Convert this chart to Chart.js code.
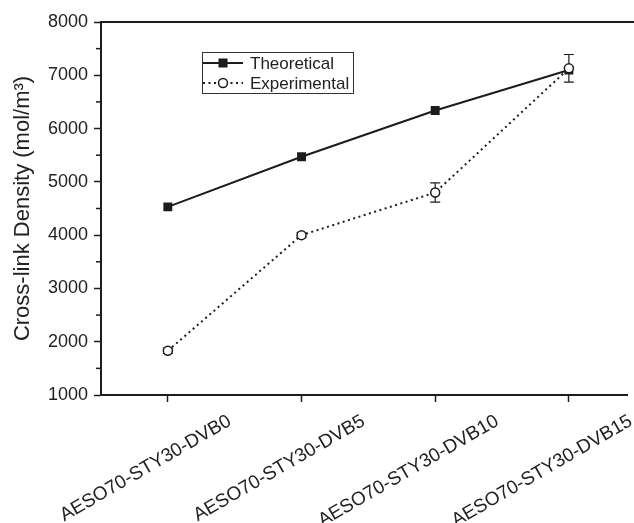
<!DOCTYPE html>
<html>
<head>
<meta charset="utf-8">
<script src="https://cdn.jsdelivr.net/npm/chart.js@4.4.0/dist/chart.umd.min.js"></script>
<style>
  html, body { margin: 0; padding: 0; background: #fff; }
  #wrap { width: 634px; height: 523px; }
</style>
</head>
<body>
<div id="wrap"><canvas id="crossLinkChart"></canvas></div>
<script>
const categories = ['AESO70-STY30-DVB0', 'AESO70-STY30-DVB5', 'AESO70-STY30-DVB10', 'AESO70-STY30-DVB15'];
const theoretical = [4530, 5470, 6340, 7100];
const experimental = [1830, 4000, 4800, 7130];
const experimentalError = [50, 45, 180, 260];
const yTicks = [1000, 2000, 3000, 4000, 5000, 6000, 7000, 8000];

Chart.defaults.font.family = "'Liberation Sans', Arial, sans-serif";
Chart.defaults.color = '#222';

const ink = '#1c1c1c';

// top frame line + minor ticks on the y axis
const frameAndMinorTicks = {
  id: 'frameAndMinorTicks',
  afterDraw(chart) {
    const { ctx, chartArea, scales } = chart;
    ctx.save();
    ctx.strokeStyle = ink;
    ctx.lineWidth = 2;
    ctx.beginPath();
    ctx.moveTo(chartArea.left - 1, chartArea.top);
    ctx.lineTo(chart.width, chartArea.top);
    ctx.stroke();
    ctx.lineWidth = 1.5;
    yTicks.slice(0, -1).forEach((v) => {
      const y = scales.y.getPixelForValue(v + 500);
      ctx.beginPath();
      ctx.moveTo(chartArea.left - 5, y);
      ctx.lineTo(chartArea.left, y);
      ctx.stroke();
    });
    ctx.restore();
  },
};

const errorBars = {
  id: 'errorBars',
  beforeDatasetDraw(chart, args) {
    if (args.index !== 1) return;
    const { ctx, scales } = chart;
    const meta = chart.getDatasetMeta(1);
    ctx.save();
    ctx.strokeStyle = ink;
    ctx.lineWidth = 1.2;
    meta.data.forEach((pt, i) => {
      const top = scales.y.getPixelForValue(experimental[i] + experimentalError[i]);
      const bot = scales.y.getPixelForValue(experimental[i] - experimentalError[i]);
      ctx.beginPath();
      ctx.moveTo(pt.x, top);
      ctx.lineTo(pt.x, bot);
      ctx.moveTo(pt.x - 5, top);
      ctx.lineTo(pt.x + 5, top);
      ctx.moveTo(pt.x - 5, bot);
      ctx.lineTo(pt.x + 5, bot);
      ctx.stroke();
    });
    ctx.restore();
  },
};

const boxLegend = {
  id: 'boxLegend',
  afterDraw(chart) {
    const { ctx, chartArea } = chart;
    const x0 = chartArea.left + 101;
    const y0 = chartArea.top + 30;
    const w = 151;
    const h = 41;
    ctx.save();
    ctx.strokeStyle = '#333';
    ctx.lineWidth = 1;
    ctx.strokeRect(x0 + 0.5, y0 + 0.5, w, h);

    chart.data.datasets.forEach((ds, i) => {
      const y = y0 + 11 + i * 20;
      ctx.strokeStyle = ink;
      ctx.lineWidth = ds.borderWidth;
      ctx.setLineDash(ds.borderDash || []);
      ctx.beginPath();
      ctx.moveTo(x0 + 1, y);
      ctx.lineTo(x0 + 41, y);
      ctx.stroke();
      ctx.setLineDash([]);
      ctx.lineWidth = ds.pointBorderWidth;
      ctx.fillStyle = ds.pointBackgroundColor;
      const cx = x0 + 21;
      if (ds.pointStyle === 'rect') {
        ctx.fillRect(cx - 4.5, y - 4.5, 9, 9);
      } else {
        ctx.beginPath();
        ctx.arc(cx, y, 4.5, 0, Math.PI * 2);
        ctx.fill();
        ctx.stroke();
      }
      ctx.fillStyle = '#222';
      ctx.font = "17px 'Liberation Sans', Arial, sans-serif";
      ctx.textBaseline = 'middle';
      ctx.fillText(ds.label, x0 + 48, y + 1);
    });
    ctx.restore();
  },
};

new Chart(document.getElementById('crossLinkChart'), {
  type: 'line',
  data: {
    datasets: [
      {
        label: 'Theoretical',
        data: theoretical.map((v, i) => ({ x: i, y: v })),
        borderColor: ink,
        borderWidth: 2,
        pointStyle: 'rect',
        pointRadius: 6.3,
        pointBackgroundColor: ink,
        pointBorderColor: ink,
        pointBorderWidth: 0,
        order: 1,
      },
      {
        label: 'Experimental',
        data: experimental.map((v, i) => ({ x: i, y: v })),
        borderColor: ink,
        borderWidth: 2,
        borderDash: [2, 3.5],
        pointStyle: 'circle',
        pointRadius: 4.5,
        pointBackgroundColor: '#fff',
        pointBorderColor: ink,
        pointBorderWidth: 1.5,
        order: 0,
      },
    ],
  },
  options: {
    responsive: true,
    maintainAspectRatio: false,
    animation: false,
    layout: { padding: { top: 22, right: 0, left: 0, bottom: 0 } },
    plugins: {
      legend: { display: false },
      tooltip: { enabled: false },
    },
    scales: {
      x: {
        type: 'linear',
        min: -0.5,
        max: 3.44,
        afterBuildTicks: (scale) => {
          scale.ticks = categories.map((c, i) => ({ value: i }));
        },
        afterFit: (scale) => {
          scale.height = 128;
          scale.paddingLeft = 0;
          scale.paddingRight = 0;
        },
        grid: {
          drawOnChartArea: false,
          tickLength: 7,
          tickWidth: 1.5,
          tickColor: ink,
        },
        border: { color: ink, width: 2 },
        ticks: {
          autoSkip: false,
          minRotation: 30,
          maxRotation: 30,
          labelOffset: 62,
          padding: 8,
          color: '#222',
          font: { size: 19 },
          callback: (v) => categories[v],
        },
      },
      y: {
        min: 1000,
        max: 8000,
        afterBuildTicks: (scale) => {
          scale.ticks = yTicks.map((v) => ({ value: v }));
        },
        afterFit: (scale) => {
          scale.width = 101;
        },
        grid: {
          drawOnChartArea: false,
          tickLength: 7,
          tickWidth: 1.5,
          tickColor: ink,
        },
        border: { color: ink, width: 2 },
        ticks: {
          padding: 6,
          color: '#222',
          font: { size: 18 },
          callback: (v) => String(v),
        },
        title: {
          display: true,
          text: 'Cross-link Density (mol/m³)',
          color: '#222',
          font: { size: 22 },
          padding: { top: 10, bottom: 0 },
        },
      },
    },
  },
  plugins: [frameAndMinorTicks, errorBars, boxLegend],
});
</script>
</body>
</html>
